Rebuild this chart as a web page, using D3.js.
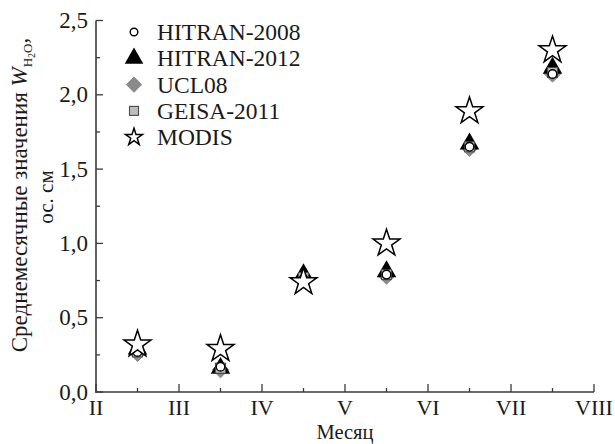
<!DOCTYPE html>
<html><head><meta charset="utf-8">
<script src="https://cdn.jsdelivr.net/npm/d3@7"></script>
<style>body{margin:0;background:#fff}svg{display:block}</style>
</head><body><svg id="c" width="615" height="444"></svg>
<script>
const months = ["II","III","IV","V","VI","VII","VIII"];
const pointMonths = [0.5,1.5,2.5,3.5,4.5,5.5];
const hitran2008 = [0.27,0.17,0.76,0.79,1.65,2.14];
const hitran2012 = [0.29,0.16,0.79,0.81,1.67,2.18];
const ucl08 = [0.26,0.15,0.77,0.78,1.64,2.14];
const geisa2011 = [0.27,0.16,0.77,0.79,1.65,2.15];
const modis = [0.32,0.29,0.74,1.00,1.89,2.30];
const yTicks = [0,0.5,1.0,1.5,2.0,2.5];
const yTickLabels = ["0,0","0,5","1,0","1,5","2,0","2,5"];

const FONT = '"Liberation Serif"';
const svg = d3.select("#c");
const x = d3.scaleLinear().domain([0,6]).range([96,594]);
const y = d3.scaleLinear().domain([0,2.5]).range([392,20.5]);

const g = svg.append("g");
function txt(){ return g.append("text").style("font-family",FONT).attr("fill","#1a1a1a"); }
const axisColor = "#3a3a3a";
g.append("line").attr("x1",96).attr("x2",96).attr("y1",y(2.5)).attr("y2",y(0)+0.8).attr("stroke",axisColor).attr("stroke-width",1.6);
g.append("line").attr("x1",x(0)-0.8).attr("x2",x(6)).attr("y1",y(0)).attr("y2",y(0)).attr("stroke",axisColor).attr("stroke-width",1.6);
d3.range(0,2.51,0.25).forEach(v=>{
  const major = Math.abs(v*2-Math.round(v*2))<1e-6;
  g.append("line").attr("x1",96).attr("x2",96+(major?7:4)).attr("y1",y(v)).attr("y2",y(v)).attr("stroke",axisColor).attr("stroke-width",1.3);
});
yTicks.forEach((v,i)=>{
  txt().attr("x",88).attr("y",y(v)+7.5).attr("text-anchor","end").attr("font-size",23).text(yTickLabels[i]);
});
d3.range(0,6.01,0.5).forEach(v=>{
  const major = Math.abs(v-Math.round(v))<1e-6;
  g.append("line").attr("x1",x(v)).attr("x2",x(v)).attr("y1",y(0)).attr("y2",y(0)-(major?8:4)).attr("stroke",axisColor).attr("stroke-width",1.3);
});
months.forEach((m,i)=>{
  txt().attr("x",x(i)).attr("y",415).attr("text-anchor","middle").attr("font-size",22).text(m);
});
txt().attr("x",345).attr("y",439).attr("text-anchor","middle").attr("font-size",20.5).text("Месяц");
const yl = txt().attr("transform","translate(27,195) rotate(-90)").attr("text-anchor","middle").attr("font-size",23);
yl.append("tspan").text("Среднемесячные значения ");
yl.append("tspan").attr("font-style","italic").text("W");
yl.append("tspan").attr("font-size",13).attr("dy",5).text("H");
yl.append("tspan").attr("font-size",10).attr("dy",3).text("2");
yl.append("tspan").attr("font-size",13).attr("dy",-3).text("O");
yl.append("tspan").attr("dy",-5).text(",");
txt().attr("transform","translate(53,197) rotate(-90)").attr("text-anchor","middle").attr("font-size",21).text("ос. см");

function star(r){ return d3.symbol().type(d3.symbolStar).size(r)(); }
const series = [
  {name:"UCL08", data:ucl08, draw:(sel,s)=>sel.append("path").attr("d",d3.symbol().type(d3.symbolDiamond2).size(s?150:170)()).attr("fill","#8a8a8a").attr("stroke","#8a8a8a")},
  {name:"HITRAN-2012", data:hitran2012, draw:(sel,s)=>sel.append("path").attr("d",d3.symbol().type(d3.symbolTriangle).size(s?150:165)()).attr("fill","#000")},
  {name:"GEISA-2011", data:geisa2011, draw:(sel,s)=>sel.append("rect").attr("x",s?-4.5:-5).attr("y",s?-4.5:-5).attr("width",s?9:10).attr("height",s?9:10).attr("fill","#bdbdbd").attr("stroke","#4a4a4a").attr("stroke-width",1.1)},
  {name:"HITRAN-2008", data:hitran2008, draw:(sel,s)=>sel.append("circle").attr("r",s?3.8:4.3).attr("fill","#fff").attr("stroke","#000").attr("stroke-width",1.4)},
  {name:"MODIS", data:modis, draw:(sel,s)=>sel.append("path").attr("d",star(s?90:225)).attr("fill","#fff").attr("stroke","#000").attr("stroke-width",1.5)}
];
series.forEach(sr=>{
  sr.data.forEach((v,i)=>{
    const gg = g.append("g").attr("transform",`translate(${x(pointMonths[i])},${y(v)})`);
    sr.draw(gg,false);
  });
});
const legendOrder = ["HITRAN-2008","HITRAN-2012","UCL08","GEISA-2011","MODIS"];
legendOrder.forEach((n,i)=>{
  const sr = series.find(s=>s.name===n);
  const ly = 32 + i*26.3;
  const gg = g.append("g").attr("transform",`translate(134,${ly})`);
  sr.draw(gg,true);
  txt().attr("x",157).attr("y",ly+8).attr("font-size",23.5).text(n);
});
</script></body></html>
